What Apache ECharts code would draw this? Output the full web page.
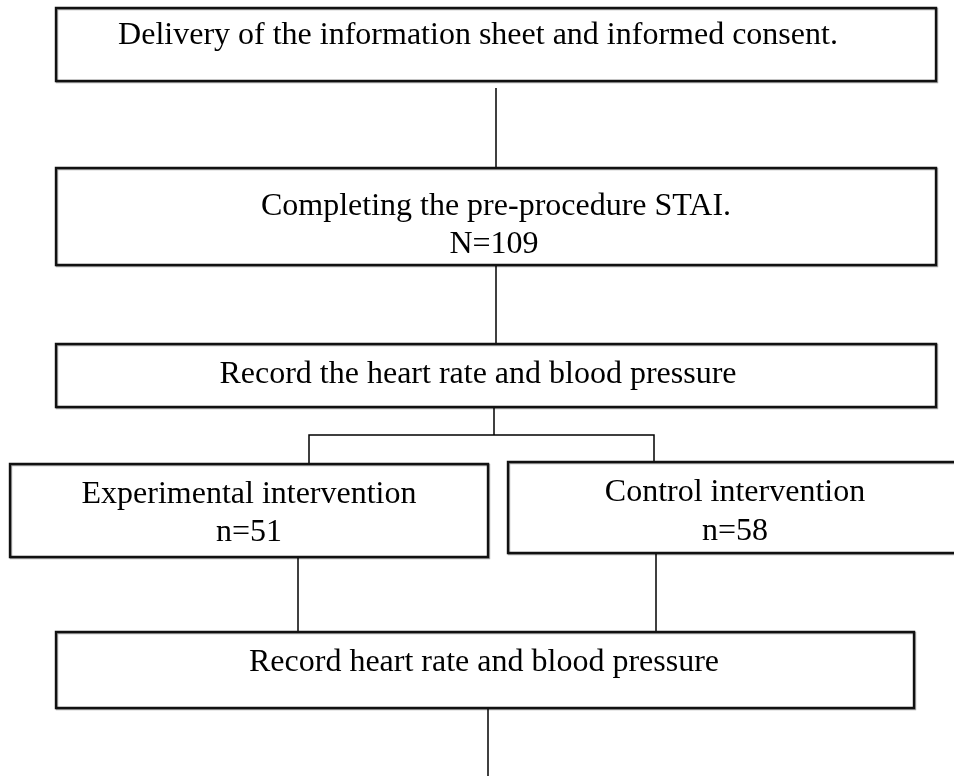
<!DOCTYPE html>
<html>
<head>
<meta charset="utf-8">
<script src="https://cdn.jsdelivr.net/npm/echarts@6/dist/echarts.min.js"></script>
<style>
  html, body { margin: 0; padding: 0; background: #fff; }
  #main { width: 954px; height: 776px; }
</style>
</head>
<body>
<div id="main"></div>
<script>
// 流程圖的方框 [x0, y0, x1, y1]
var boxes = [
    [56, 8, 936, 81],
    [56, 168, 936, 265],
    [56, 344, 936, 407],
    [10, 464, 488, 557],
    [508, 462, 962, 553],
    [56, 632, 914, 708]
];

// 文字內容與位置
var textLines = [
    'Delivery of the information sheet and informed consent.',
    'Completing the pre-procedure STAI.',
    'N=109',
    'Record the heart rate and blood pressure',
    'Experimental intervention',
    'n=51',
    'Control intervention',
    'n=58',
    'Record heart rate and blood pressure'
];
var textX = [478, 496, 494, 478, 249, 249, 735, 735, 484];
var textY = [36, 207, 245, 375, 495, 533, 493, 532, 663];

// 連接線
var connectors = [
    [[496, 88], [496, 168]],
    [[496, 265], [496, 344]],
    [[494, 407], [494, 435]],
    [[309, 463], [309, 435], [654, 435], [654, 462]],
    [[298, 557], [298, 632]],
    [[656, 553], [656, 632]],
    [[488, 708], [488, 776]]
];

var chart = echarts.init(document.getElementById('main'));

var option = {
    animation: false,
    backgroundColor: '#fff',
    grid: { left: 0, right: 0, top: 0, bottom: 0 },
    xAxis: { type: 'value', min: 0, max: 954, show: false },
    yAxis: { type: 'value', min: 0, max: 776, inverse: true, show: false },
    series: [
        {
            type: 'lines',
            coordinateSystem: 'cartesian2d',
            polyline: true,
            silent: true,
            lineStyle: { color: '#000', width: 1.5, opacity: 1 },
            data: connectors.map(function (c) { return { coords: c }; }),
            z: 1
        },
        {
            type: 'custom',
            clip: false,
            data: boxes,
            renderItem: function (params, api) {
                var p0 = api.coord([api.value(0), api.value(1)]);
                var p1 = api.coord([api.value(2), api.value(3)]);
                return {
                    type: 'rect',
                    shape: { x: p0[0], y: p0[1], width: p1[0] - p0[0], height: p1[1] - p0[1] },
                    style: {
                        fill: '#fff', stroke: '#111', lineWidth: 2.4,
                        shadowColor: 'rgba(0,0,0,0.35)', shadowOffsetX: 1, shadowOffsetY: 1, shadowBlur: 0
                    }
                };
            },
            z: 2
        },
        {
            type: 'custom',
            data: textLines.map(function (t, i) { return [textX[i], textY[i], i]; }),
            renderItem: function (params, api) {
                var p = api.coord([api.value(0), api.value(1)]);
                return {
                    type: 'text',
                    x: p[0],
                    y: p[1],
                    style: {
                        text: textLines[api.value(2)],
                        fontFamily: '"Liberation Serif", "Times New Roman", serif',
                        fontSize: 32,
                        fill: '#000',
                        align: 'center',
                        verticalAlign: 'middle'
                    }
                };
            },
            z: 3
        }
    ]
};

chart.setOption(option);
</script>
</body>
</html>
